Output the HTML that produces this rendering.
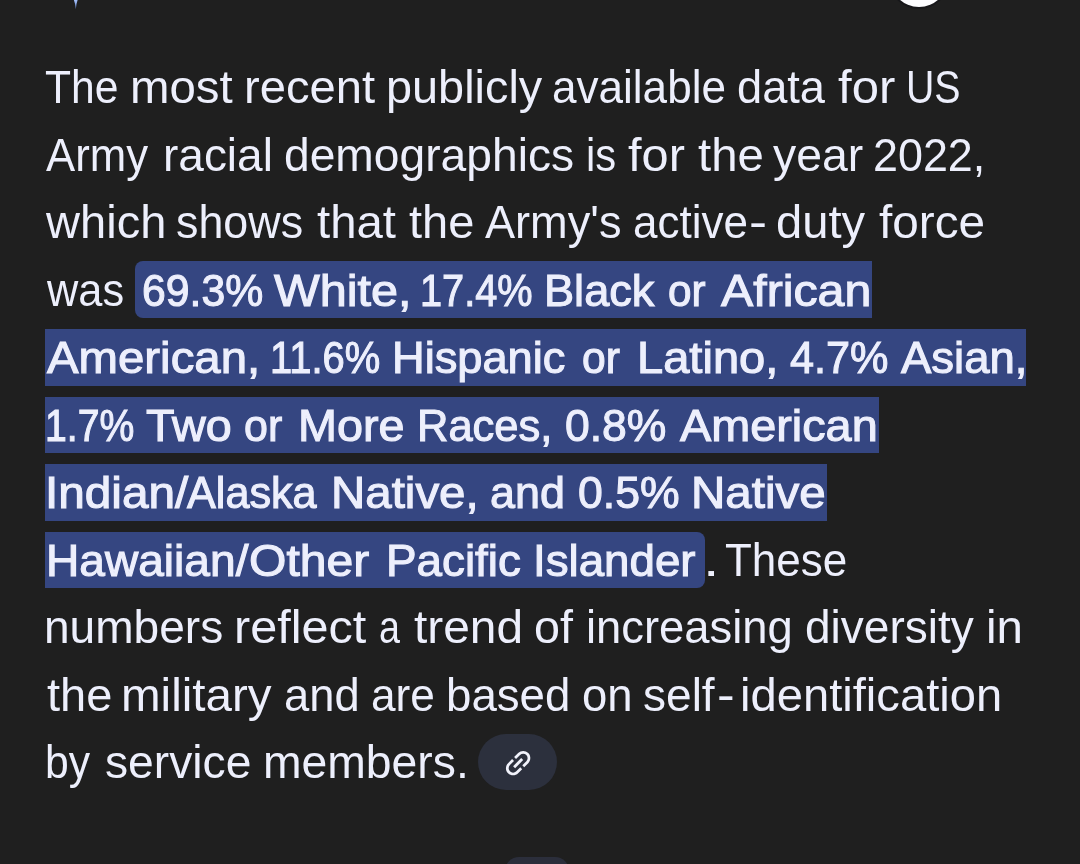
<!DOCTYPE html>
<html lang="en">
<head>
<meta charset="utf-8">
<title>Response</title>
<style>
html,body{margin:0;padding:0;}
body{width:1080px;height:864px;overflow:hidden;background:#1f1f1f;position:relative;
 font-family:"Liberation Sans",sans-serif;color:#edeffc;}
#avatar{position:absolute;left:890px;top:-51px;width:58px;height:58px;border-radius:50%;background:#fdfdff;box-shadow:0 0 0 2px #17171a;}
#spark{position:absolute;left:70px;top:0;width:12px;height:10px;}
.hl{position:absolute;background:#354681;}
#txt{position:absolute;left:0;top:0;width:1080px;height:864px;will-change:transform;font-size:45.5px;line-height:52px;}
.ln{position:absolute;left:0;width:1080px;height:0;white-space:nowrap;}
.w{position:absolute;bottom:-11px;display:block;transform-origin:0 100%;white-space:pre;}
.m{font-size:45px;-webkit-text-stroke:1.1px #edeffc;}
#chip{position:absolute;left:478px;top:734px;width:79px;height:56px;border-radius:28px;background:#2c303d;}
#chip svg{position:absolute;left:22.75px;top:11.95px;width:34.3px;height:34.3px;}
#pill2{position:absolute;left:505px;top:856.5px;width:64px;height:40px;border-radius:14px;background:#2b2e3b;}
</style>
</head>
<body>
<div id="avatar"></div>
<svg id="spark" viewBox="0 0 12 10"><defs><linearGradient id="sg" x1="0" y1="0" x2="0" y2="1"><stop offset="0" stop-color="#a6c1fa"/><stop offset="1" stop-color="#5f7fc4"/></linearGradient></defs><path d="M3.9 0 L7.6 0 Q6.4 3.2 5.8 9.3 Q5.2 3.2 3.9 0Z" fill="url(#sg)"/></svg>

<div class="hl" style="left:135px;top:261.4px;width:737.3px;height:56.6px;border-radius:8px 0 0 8px"></div>
<div class="hl" style="left:45px;top:329.3px;width:981px;height:56.4px"></div>
<div class="hl" style="left:45px;top:396.6px;width:833.8px;height:56.7px"></div>
<div class="hl" style="left:45px;top:464.4px;width:782.2px;height:56.2px"></div>
<div class="hl" style="left:45px;top:531.9px;width:660.2px;height:56px;border-radius:0 8px 8px 0"></div>

<div id="txt">
<div class="ln" style="top:103.10px"><span class="w" style="left:45.06px;transform:scaleX(0.9369)">The</span> <span class="w" style="left:129.57px;transform:scaleX(1.0421)">most</span> <span class="w" style="left:243.59px;transform:scaleX(1.0362)">recent</span> <span class="w" style="left:386.24px;transform:scaleX(1.0294)">publicly</span> <span class="w" style="left:552.33px;transform:scaleX(0.9684)">available</span> <span class="w" style="left:737.31px;transform:scaleX(0.9938)">data</span> <span class="w" style="left:838.40px;transform:scaleX(1.0785)">for</span> <span class="w" style="left:905.81px;transform:scaleX(0.8631)">US</span></div>
<div class="ln" style="top:170.60px"><span class="w" style="left:46.00px;transform:scaleX(0.9614)">Army</span> <span class="w" style="left:162.97px;transform:scaleX(1.0104)">racial</span> <span class="w" style="left:283.99px;transform:scaleX(1.0150)">demographics</span> <span class="w" style="left:585.55px;transform:scaleX(0.9173)">is</span> <span class="w" style="left:628.30px;transform:scaleX(1.0709)">for</span> <span class="w" style="left:698.30px;transform:scaleX(1.0396)">the</span> <span class="w" style="left:773.30px;transform:scaleX(1.0186)">year</span> <span class="w" style="left:873.03px;transform:scaleX(0.9860)">2022,</span></div>
<div class="ln" style="top:238.10px"><span class="w" style="left:46.03px;transform:scaleX(1.0346)">which</span> <span class="w" style="left:176.31px;transform:scaleX(0.9857)">shows</span> <span class="w" style="left:316.70px;transform:scaleX(1.0400)">that</span> <span class="w" style="left:409.30px;transform:scaleX(1.0332)">the</span> <span class="w" style="left:485.00px;transform:scaleX(0.9917)">Army's</span> <span class="w" style="left:633.03px;transform:scaleX(0.9669)">active</span><span class="w" style="left:749.32px;transform:scaleX(1.1917)">-</span><span class="w" style="left:775.66px;transform:scaleX(1.0358)">duty</span> <span class="w" style="left:879.30px;transform:scaleX(1.0486)">force</span></div>
<div class="ln" style="top:305.60px"><span class="w" style="left:46.95px;transform:scaleX(0.9524)">was</span> <span class="w m" style="left:141.92px;transform:scaleX(0.9500)">69.3%</span> <span class="w m" style="left:273.89px;transform:scaleX(1.0789)">White,</span> <span class="w m" style="left:419.54px;transform:scaleX(0.8822)">17.4%</span> <span class="w m" style="left:543.54px;transform:scaleX(1.0033)">Black</span> <span class="w m" style="left:667.88px;transform:scaleX(0.9395)">or</span> <span class="w m" style="left:721.29px;transform:scaleX(1.0731)">African</span></div>
<div class="ln" style="top:373.10px"><span class="w m" style="left:47.28px;transform:scaleX(1.0521)">American,</span> <span class="w m" style="left:269.53px;transform:scaleX(0.8867)">11.6%</span> <span class="w m" style="left:391.54px;transform:scaleX(1.0049)">Hispanic</span> <span class="w m" style="left:582.27px;transform:scaleX(0.9470)">or</span> <span class="w m" style="left:636.74px;transform:scaleX(1.0462)">Latino,</span> <span class="w m" style="left:790.27px;transform:scaleX(0.9601)">4.7%</span> <span class="w m" style="left:900.56px;transform:scaleX(1.0109)">Asian,</span></div>
<div class="ln" style="top:440.60px"><span class="w m" style="left:45.17px;transform:scaleX(0.8700)">1.7%</span> <span class="w m" style="left:145.53px;transform:scaleX(1.0380)">Two</span> <span class="w m" style="left:243.57px;transform:scaleX(0.9545)">or</span> <span class="w m" style="left:297.95px;transform:scaleX(1.0392)">More</span> <span class="w m" style="left:416.93px;transform:scaleX(0.9655)">Races,</span> <span class="w m" style="left:565.06px;transform:scaleX(0.9886)">0.8%</span> <span class="w m" style="left:679.87px;transform:scaleX(1.0400)">American</span></div>
<div class="ln" style="top:508.10px"><span class="w m" style="left:44.64px;transform:scaleX(1.0602)">Indian/</span><span class="w m" style="left:187.23px;transform:scaleX(0.9596)">Alaska</span> <span class="w m" style="left:331.42px;transform:scaleX(1.0546)">Native,</span> <span class="w m" style="left:489.55px;transform:scaleX(0.9979)">and</span> <span class="w m" style="left:577.85px;transform:scaleX(0.9906)">0.5%</span> <span class="w m" style="left:690.71px;transform:scaleX(1.0568)">Native</span></div>
<div class="ln" style="top:575.60px"><span class="w m" style="left:45.79px;transform:scaleX(1.0245)">Hawaiian/</span><span class="w m" style="left:249.15px;transform:scaleX(1.0684)">Other</span> <span class="w m" style="left:385.81px;transform:scaleX(1.0174)">Pacific</span> <span class="w m" style="left:533.20px;transform:scaleX(1.0152)">Islander</span><span class="w" style="left:703.30px;transform:scaleX(1.3000)">.</span> <span class="w" style="left:725.03px;transform:scaleX(0.9665)">These</span></div>
<div class="ln" style="top:643.10px"><span class="w" style="left:44.26px;transform:scaleX(1.0123)">numbers</span> <span class="w" style="left:234.10px;transform:scaleX(1.0671)">reflect</span> <span class="w" style="left:379.17px;transform:scaleX(0.8280)">a</span> <span class="w" style="left:414.00px;transform:scaleX(1.0522)">trend</span> <span class="w" style="left:533.97px;transform:scaleX(1.0267)">of</span> <span class="w" style="left:586.31px;transform:scaleX(0.9966)">increasing</span> <span class="w" style="left:804.99px;transform:scaleX(1.0113)">diversity</span> <span class="w" style="left:986.17px;transform:scaleX(1.0429)">in</span></div>
<div class="ln" style="top:710.60px"><span class="w" style="left:46.70px;transform:scaleX(1.0332)">the</span> <span class="w" style="left:120.86px;transform:scaleX(1.0451)">military</span> <span class="w" style="left:284.00px;transform:scaleX(0.9957)">and</span> <span class="w" style="left:370.73px;transform:scaleX(0.9707)">are</span> <span class="w" style="left:446.29px;transform:scaleX(1.0028)">based</span> <span class="w" style="left:581.70px;transform:scaleX(0.9999)">on</span> <span class="w" style="left:642.99px;transform:scaleX(1.0119)">self</span><span class="w" style="left:716.97px;transform:scaleX(1.1667)">-</span><span class="w" style="left:740.19px;transform:scaleX(1.0366)">identification</span></div>
<div class="ln" style="top:778.10px"><span class="w" style="left:45.43px;transform:scaleX(0.9373)">by</span> <span class="w" style="left:104.98px;transform:scaleX(1.0154)">service</span> <span class="w" style="left:262.95px;transform:scaleX(1.0173)">members.</span></div>
</div>

<div id="chip"><svg viewBox="0 0 24 24"><path transform="rotate(-45 12 12)" fill="#f1f2fb" d="M3.9 12c0-1.71 1.39-3.1 3.1-3.1h4V7H7c-2.76 0-5 2.24-5 5s2.24 5 5 5h4v-1.9H7c-1.71 0-3.1-1.39-3.1-3.1zM8 13h8v-2H8v2zm9-6h-4v1.9h4c1.71 0 3.1 1.39 3.1 3.1s-1.39 3.1-3.1 3.1h-4V17h4c2.76 0 5-2.24 5-5s-2.24-5-5-5z"/></svg></div>
<div id="pill2"></div>
</body>
</html>
